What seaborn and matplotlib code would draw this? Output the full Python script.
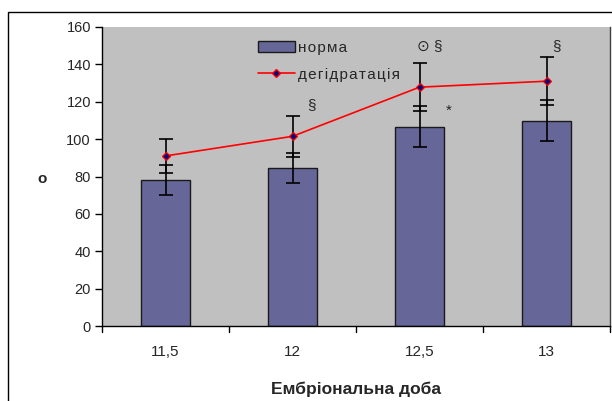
import numpy as np
import pandas as pd
import matplotlib
matplotlib.use('Agg')
import matplotlib.pyplot as plt
import seaborn as sns
from matplotlib.lines import Line2D
from matplotlib.patches import Patch, Rectangle

# values
days = ['11,5', '12', '12,5', '13']
norm = [78, 84.5, 106.6, 109.8]
norm_err = [8, 8, 11, 11]
dehydr = [91, 101.5, 127.8, 131]
dehydr_err = [9, 11, 13, 13]
marks = [['', ''], ['§', ''], ['⊙ §', '*'], ['§', '']]

sns.set_theme(style='white')
plt.rcParams['font.family'] = ['Liberation Sans', 'DejaVu Sans']

df = pd.DataFrame({'day': days, 'norm': norm, 'dehydr': dehydr})

fig = plt.figure(figsize=(6.12, 4.01), dpi=100)
ax = fig.add_axes([102 / 612, 1 - 326 / 401, 508 / 612, 299 / 401])
ax.set_facecolor('#C0C0C0')

sns.barplot(data=df, x='day', y='norm', color='#666699', width=0.39,
            edgecolor='#1a1a1a', linewidth=1.0, saturation=1, ax=ax, zorder=2)
pos = np.arange(len(days))
ax.errorbar(pos, norm, yerr=norm_err, fmt='none', ecolor='black',
            elinewidth=1.2, capsize=5, capthick=1.2, zorder=3)
ax.errorbar(pos, dehydr, yerr=dehydr_err, fmt='none', ecolor='black',
            elinewidth=1.2, capsize=5, capthick=1.2, zorder=3)
sns.pointplot(data=df, x='day', y='dehydr', color='red', markers='D',
              linewidth=1.2, markersize=4, ax=ax, zorder=4)
for ln in ax.lines:
    if ln.get_marker() == 'D':
        ln.set_markerfacecolor('#000080')
        ln.set_markeredgecolor('red')

# significance marks
for i, (top, mid) in enumerate(marks):
    if i == 1:
        ax.text(i + 0.15, 118, top, fontsize=11, ha='center', va='center')
    elif top:
        ax.text(i + 0.08, 150, top, fontsize=11, ha='center', va='center')
    if mid:
        ax.text(i + 0.23, 115, mid, fontsize=11, ha='center', va='center')

ax.set_ylim(0, 160)
ax.set_xlim(-0.5, 3.5)
ax.set_yticks(range(0, 161, 20))
ax.set_xticks(pos)
ax.set_xticklabels(days, fontsize=11)
ax.tick_params(axis='y', labelsize=10.5, direction='out', length=5, width=1,
               left=True, color='black', pad=3)
ax.tick_params(axis='x', length=0, pad=14)
for b in np.arange(-0.5, 3.6, 1.0):
    ax.plot([b, b], [0, -3], color='black', lw=1, clip_on=False, zorder=5)

for s in ['left', 'bottom']:
    ax.spines[s].set_color('black')
    ax.spines[s].set_linewidth(1)
ax.spines['top'].set_visible(False)
ax.spines['right'].set_color('#404040')
ax.spines['right'].set_linewidth(1)

ax.set_xlabel('Ембріональна доба', fontsize=12.5, fontweight='bold', labelpad=16)
ax.set_ylabel('о', fontsize=11, fontweight='bold', rotation=0, va='center', ha='center')
ax.yaxis.set_label_coords(-0.118, 0.49)

hs = '\u200a'
handles = [Patch(facecolor='#666699', edgecolor='#1a1a1a', label=hs.join('норма')),
           Line2D([0], [0], color='red', lw=1.2, marker='D', markersize=4,
                  markerfacecolor='#000080', markeredgecolor='red',
                  label=hs.join('дегідратація'))]
ax.legend(handles=handles, loc='upper left', bbox_to_anchor=(0.28, 1.0),
          frameon=False, fontsize=11, handlelength=2.4, handletextpad=0.2,
          labelspacing=0.85)

# chart area border (cut at right and bottom)
fig.patches.append(Rectangle((8 / 612, -0.05), 1.1, 1 - 12 / 401 + 0.05,
                             transform=fig.transFigure, fill=False,
                             edgecolor='black', lw=1))

fig.savefig('out.png', dpi=100)
